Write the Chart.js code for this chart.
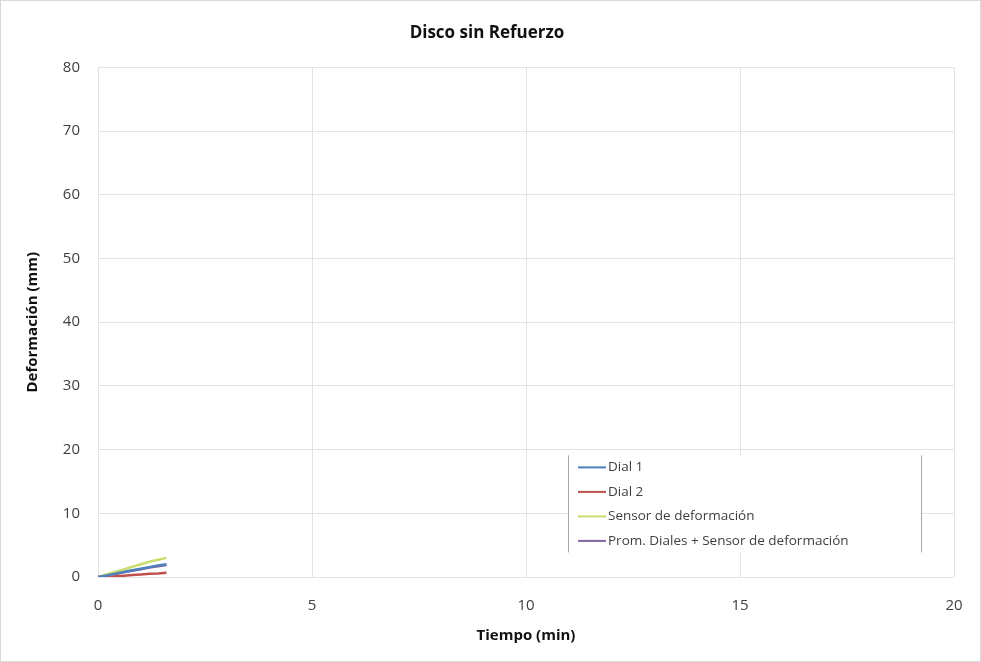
<!DOCTYPE html>
<html>
<head>
<meta charset="utf-8">
<script src="https://cdn.jsdelivr.net/npm/chart.js@4/dist/chart.umd.min.js"></script>
<style>
  html, body { margin: 0; padding: 0; background: #fff; }
  #wrap { width: 981px; height: 662px; }
</style>
</head>
<body>
<div id="wrap"><canvas id="grafico"></canvas></div>
<script>
// tiempo en minutos
var tiempo = [0, 0.2, 0.4, 0.6, 0.8, 1.0, 1.2, 1.4, 1.6];
var dial1 = [0, 0.25, 0.5, 0.8, 1.05, 1.3, 1.55, 1.8, 2.0];
var dial2 = [0, 0.05, 0.1, 0.2, 0.3, 0.4, 0.5, 0.55, 0.65];
var sensor = [0, 0.4, 0.8, 1.2, 1.6, 2.0, 2.4, 2.7, 3.0];
var promedio = [0, 0.23, 0.47, 0.73, 0.98, 1.23, 1.48, 1.68, 1.88];
var etiquetas = ['Dial 1', 'Dial 2', 'Sensor de deformación', 'Prom. Diales + Sensor de deformación'];
var colores = ['#4F81BD', '#C0504D', '#C9DC6E', '#8064A2'];

function puntos(valores) {
    return tiempo.map(function (t, i) { return { x: t, y: valores[i] }; });
}

var series = [dial1, dial2, sensor, promedio];
var datasets = series.map(function (s, i) {
    return {
        label: etiquetas[i],
        data: puntos(s),
        borderColor: colores[i],
        backgroundColor: colores[i],
        borderWidth: 2.5,
        pointRadius: 0,
        fill: false
    };
});

// fondo blanco y marco
var fondo = {
    id: 'fondo',
    beforeDraw: function (chart) {
        var c = chart.ctx;
        c.save();
        c.fillStyle = '#fff';
        c.fillRect(0, 0, chart.width, chart.height);
        c.strokeStyle = '#d9d9d9';
        c.lineWidth = 1;
        c.strokeRect(0.5, 0.5, chart.width - 1, chart.height - 1);
        c.restore();
    }
};

// leyenda dentro del area del grafico
var leyenda = {
    id: 'leyenda',
    afterDraw: function (chart) {
        var c = chart.ctx;
        var a = chart.chartArea;
        var x = a.left + 470, y = a.top + 388, w = 354, h = 97;
        c.save();
        c.fillStyle = '#fff';
        c.fillRect(x, y, w, h);
        c.strokeStyle = '#a6a6a6';
        c.lineWidth = 1;
        c.beginPath();
        c.moveTo(x + 0.5, y); c.lineTo(x + 0.5, y + h);
        c.moveTo(x + w - 0.5, y); c.lineTo(x + w - 0.5, y + h);
        c.stroke();
        c.font = '13.5px "Open Sans", sans-serif';
        c.textBaseline = 'middle';
        chart.data.datasets.forEach(function (ds, i) {
            var yy = y + 12 + i * 24.5;
            c.strokeStyle = ds.borderColor;
            c.lineWidth = 2;
            c.beginPath();
            c.moveTo(x + 10, yy); c.lineTo(x + 38, yy);
            c.stroke();
            c.fillStyle = '#404040';
            c.fillText(ds.label, x + 40, yy);
        });
        c.restore();
    }
};

new Chart(document.getElementById('grafico'), {
    type: 'line',
    data: { datasets: datasets },
    plugins: [fondo, leyenda],
    options: {
        responsive: true,
        maintainAspectRatio: false,
        animation: false,
        layout: { padding: { left: 20, right: 27, top: 8, bottom: 13 } },
        plugins: {
            legend: { display: false },
            tooltip: { enabled: false },
            title: {
                display: true,
                text: 'Disco sin Refuerzo',
                color: '#111',
                font: { family: '"Open Sans", sans-serif', size: 17, weight: 'bold' },
                padding: { top: 15, bottom: 24 }
            }
        },
        scales: {
            x: {
                type: 'linear',
                min: 0, max: 20,
                ticks: { stepSize: 5, color: '#404040', font: { family: '"Open Sans", sans-serif', size: 15 }, padding: 20 },
                grid: { color: '#e3e3e3', drawTicks: false },
                border: { display: false },
                title: {
                    display: true,
                    text: 'Tiempo (min)',
                    color: '#111',
                    font: { family: '"Open Sans", sans-serif', size: 15, weight: 'bold' },
                    padding: { top: 4 }
                },
                afterFit: function (s) { s.height = 72; s.paddingRight = 13; }
            },
            y: {
                min: 0, max: 80,
                ticks: { stepSize: 10, color: '#404040', font: { family: '"Open Sans", sans-serif', size: 15 }, padding: 18 },
                grid: { color: '#e3e3e3', drawTicks: false },
                border: { display: false },
                title: {
                    display: true,
                    text: 'Deformación (mm)',
                    color: '#111',
                    font: { family: '"Open Sans", sans-serif', size: 15, weight: 'bold' },
                    padding: { bottom: 4 }
                },
                afterFit: function (s) { s.width = 78; }
            }
        }
    }
});
</script>
</body>
</html>
